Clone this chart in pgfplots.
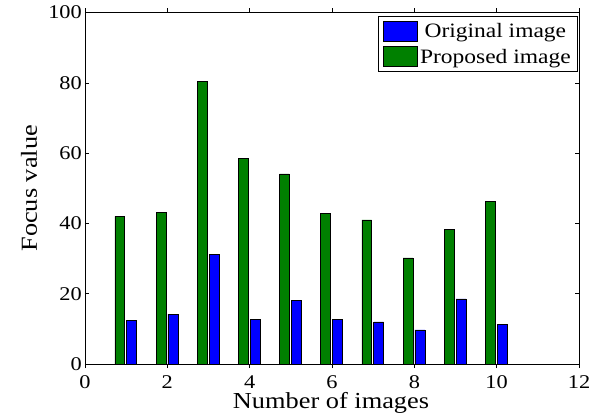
\documentclass[border=0pt]{standalone}
\usepackage{fontspec}
\setmainfont{Liberation Serif}[FakeStretch=1.15]
\usepackage{pgfplots}
\pgfplotsset{compat=1.18}
\definecolor{mgreen}{RGB}{0,128,0}
\definecolor{mblue}{RGB}{0,0,255}
\begin{document}
\begin{tikzpicture}[x=1bp,y=1bp]
\begin{axis}[
    scale only axis,
    width=494bp, height=351.5bp,
    xmin=0, xmax=12, ymin=0, ymax=100,
    xtick={0,2,...,12}, ytick={0,20,...,100},
    tick align=inside,
    major tick length=4bp,
    tick style={black, line width=0.5pt},
    axis line style={black, line width=1pt},
    ybar, bar width=0.24,
    /pgf/number format/assume math mode=true,
    tick label style={font=\fontsize{19.5}{22}\selectfont},
    xticklabel style={anchor=base, inner sep=0pt, yshift=-20.5bp},
    yticklabel style={anchor=east, inner sep=0pt, xshift=-3bp},
    label style={font=\fontsize{23}{26}\selectfont},
    xlabel={Number of images},
    ylabel={Focus value},
    xlabel style={at={(axis description cs:0.498,0)}, anchor=base, inner sep=0pt, yshift=-44bp},
    ylabel style={at={(axis description cs:-0.0972,0.5)}, anchor=base, inner sep=0pt},
    legend style={
        at={(rel axis cs:1,1)}, anchor=north east, xshift=-1bp, yshift=-4bp,
        draw=black, line width=0.6pt,
        font=\fontsize{20.5}{23}\selectfont,
        inner xsep=5bp, inner ysep=4bp, row sep=5bp,
        nodes={inner xsep=2bp, inner ysep=1bp},
    },
    legend image code/.code={
        \draw[#1, line width=0.6pt, draw=black] (0bp,-10bp) rectangle (34bp,10bp);
    },
]
\addplot[fill=mblue, draw=black, line width=0.6pt, bar shift=0.135] coordinates {
    (1,12.4) (2,14.2) (3,31.1) (4,12.7) (5,18.1)
    (6,12.7) (7,12.0) (8,9.7) (9,18.5) (10,11.3)};
\addplot[fill=mgreen, draw=black, line width=0.6pt, bar shift=-0.155] coordinates {
    (1,42.0) (2,43.2) (3,80.3) (4,58.5) (5,54.1)
    (6,42.8) (7,41.0) (8,30.2) (9,38.2) (10,46.2)};
\legend{Original image, Proposed image\hspace{6bp}}
\end{axis}
\pgfresetboundingbox
\path[use as bounding box] (-85bp,-50bp) rectangle (514bp,364bp);
\end{tikzpicture}
\end{document}
